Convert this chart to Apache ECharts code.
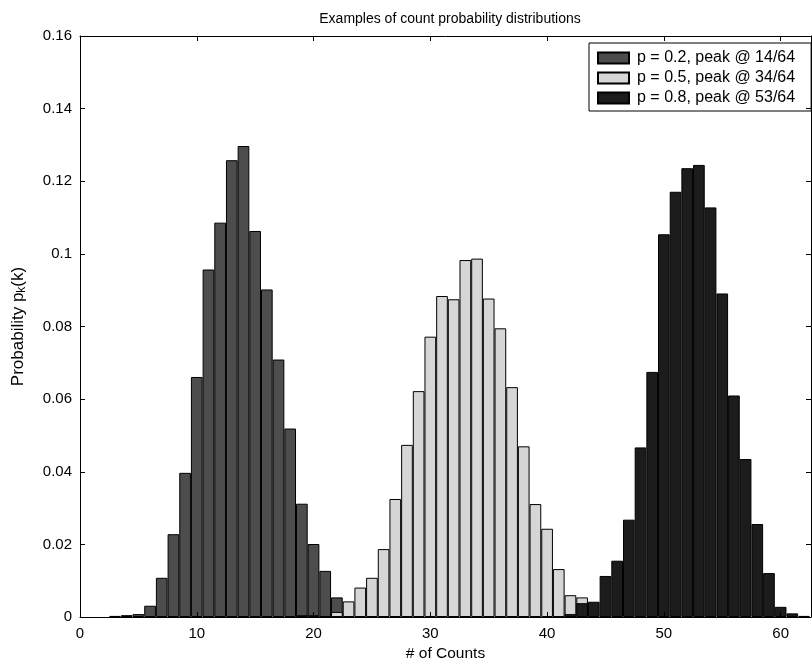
<!DOCTYPE html>
<html>
<head>
<meta charset="utf-8">
<title>Examples of count probability distributions</title>
<script src="https://cdn.jsdelivr.net/npm/echarts@6/dist/echarts.min.js"></script>
<style>
  html, body { margin: 0; padding: 0; background: #fff; }
  #chart { width: 812px; height: 659px; }
</style>
</head>
<body>
<div id="chart"></div>
<script>
// Histogram estimates of the count distribution for three success probabilities.
const lowK = [3, 4, 5, 6, 7, 8, 9, 10, 11, 12, 13, 14, 15, 16, 17, 18, 19, 20, 21, 22, 23];
const lowProb = [0.0003, 0.0005, 0.0008, 0.0031, 0.0108, 0.0228, 0.0397, 0.0661, 0.0957, 0.1086,
                 0.1258, 0.1297, 0.1063, 0.0902, 0.0709, 0.0519, 0.0312, 0.0201, 0.0127, 0.0054, 0.0004];

const midK = [19, 20, 21, 22, 23, 24, 25, 26, 27, 28, 29, 30, 31, 32, 33, 34, 35, 36, 37, 38, 39, 40, 41, 42, 43];
const midProb = [0.0005, 0.0005, 0, 0.0014, 0.0043, 0.0081, 0.0108, 0.0187, 0.0325, 0.0474, 0.0622,
                 0.0772, 0.0884, 0.0875, 0.0983, 0.0987, 0.0877, 0.0795, 0.0633, 0.0470, 0.0311,
                 0.0243, 0.0132, 0.0060, 0.0054];

const highK = [41, 42, 43, 44, 45, 46, 47, 48, 49, 50, 51, 52, 53, 54, 55, 56, 57, 58, 59, 60, 61, 62];
const highProb = [0.0002, 0.0008, 0.0038, 0.0042, 0.0113, 0.0155, 0.0268, 0.0467, 0.0675, 0.1054,
                  0.1171, 0.1236, 0.1245, 0.1128, 0.0891, 0.0610, 0.0435, 0.0256, 0.0121, 0.0028,
                  0.0010, 0.0003];

const seriesNames = ['p = 0.2, peak @ 14/64', 'p = 0.5, peak @ 34/64', 'p = 0.8, peak @ 53/64'];
const xTicks = [0, 10, 20, 30, 40, 50, 60];
const yTicks = [0, 0.02, 0.04, 0.06, 0.08, 0.1, 0.12, 0.14, 0.16];

const FONT = "'Liberation Sans', Arial, Helvetica, sans-serif";
const pairs = (ks, ps) => ks.map((k, i) => [k, ps[i]]);

const xStep = xTicks[1] - xTicks[0];
const yStep = yTicks[1] - yTicks[0];
const xMax = 62.6;

// Boxed frame: every side carries inward-pointing ticks and stays on its own edge.
function frameAxis(base) {
  return Object.assign({
    type: 'value',
    z: 5,
    axisLine: { show: true, onZero: false, lineStyle: { color: '#000', width: 1 } },
    axisTick: { show: true, inside: true, length: 5, lineStyle: { color: '#000', width: 1 } },
    splitLine: { show: false }
  }, base);
}

const chart = echarts.init(document.getElementById('chart'), null, { renderer: 'canvas' });

const barStyle = (fill) => ({
  type: 'bar',
  barWidth: '100%',
  barGap: '-100%',
  itemStyle: { color: fill, borderColor: '#000', borderWidth: 1 },
  emphasis: { disabled: true },
  animation: false
});

chart.setOption({
  backgroundColor: '#fff',
  textStyle: { fontFamily: FONT, color: '#000' },
  title: {
    text: 'Examples of count probability distributions',
    left: 445,
    top: 7,
    textAlign: 'center',
    textStyle: { fontFamily: FONT, fontSize: 14, fontWeight: 'normal', color: '#000' }
  },
  legend: {
    orient: 'vertical',
    left: 589,
    top: 43,
    data: seriesNames,
    backgroundColor: '#fff',
    borderColor: '#000',
    borderWidth: 1,
    borderRadius: 0,
    padding: [7, 16, 5, 8],
    itemWidth: 31,
    itemHeight: 11,
    itemGap: 4,
    icon: 'rect',
    textStyle: { fontFamily: FONT, fontSize: 16, color: '#000', lineHeight: 16, padding: [0, 0, 0, 3] },
    selectedMode: false
  },
  grid: { left: 80, right: 1, top: 36, bottom: 42, containLabel: false, outerBoundsMode: 'none' },
  xAxis: [
    frameAxis({
      position: 'bottom',
      min: xTicks[0],
      max: xMax,
      interval: xStep,
      name: '# of Counts',
      nameLocation: 'middle',
      nameGap: 25,
      nameTextStyle: { fontFamily: FONT, fontSize: 15.5, color: '#000' },
      axisLabel: { color: '#000', fontFamily: FONT, fontSize: 15, margin: 9, showMaxLabel: false }
    }),
    frameAxis({
      position: 'top',
      min: xTicks[0],
      max: xMax,
      interval: xStep,
      axisLabel: { show: false }
    })
  ],
  yAxis: [
    frameAxis({
      position: 'left',
      min: yTicks[0],
      max: yTicks[yTicks.length - 1],
      interval: yStep,
      name: 'Probability p{sub|k}(k)',
      nameLocation: 'middle',
      nameRotate: 90,
      nameGap: 52,
      nameTextStyle: {
        fontFamily: FONT, fontSize: 17, color: '#000',
        rich: { sub: { fontFamily: FONT, fontSize: 12, color: '#000', padding: [8, 0, 0, 0] } }
      },
      axisLabel: { color: '#000', fontFamily: FONT, fontSize: 15, margin: 8 }
    }),
    frameAxis({
      position: 'right',
      min: yTicks[0],
      max: yTicks[yTicks.length - 1],
      interval: yStep,
      axisLabel: { show: false }
    })
  ],
  series: [
    Object.assign(barStyle('#4d4d4d'), { name: seriesNames[0], data: pairs(lowK, lowProb) }),
    Object.assign(barStyle('#d6d6d6'), { name: seriesNames[1], data: pairs(midK, midProb) }),
    Object.assign(barStyle('#1c1c1c'), { name: seriesNames[2], data: pairs(highK, highProb) })
  ]
});
</script>
</body>
</html>
